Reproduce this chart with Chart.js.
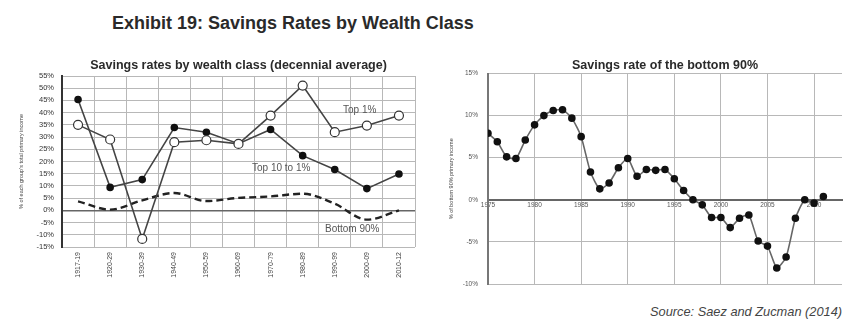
<!DOCTYPE html>
<html>
<head>
<meta charset="utf-8">
<script src="https://cdn.jsdelivr.net/npm/chart.js@4.4.1/dist/chart.umd.min.js"></script>
<style>
  body { margin:0; background:#fff; width:857px; height:335px; overflow:hidden; font-family:"Liberation Sans", Arial, sans-serif; }
  .abs { position:absolute; }
  #mainTitle { left:112px; top:13px; font-weight:bold; font-size:18px; color:#2a2a2a; }
  #source { left:650px; top:304px; font-style:italic; font-size:12.8px; color:#444; }
  .lbl { position:absolute; font-size:10px; color:#555; white-space:nowrap; }
  #leftBox { left:0; top:52px; width:422px; height:250px; }
  #rightBox { left:430px; top:52px; width:427px; height:250px; }
</style>
</head>
<body>
<div id="mainTitle" class="abs">Exhibit 19: Savings Rates by Wealth Class</div>
<div id="leftBox" class="abs"><canvas id="leftChart"></canvas></div>
<div id="rightBox" class="abs"><canvas id="rightChart"></canvas></div>
<div class="lbl" style="left:343px;top:104px;">Top 1%</div>
<div class="lbl" style="left:252px;top:162px;">Top 10 to 1%</div>
<div class="lbl" style="left:325px;top:223px;">Bottom 90%</div>
<div id="source" class="abs">Source: Saez and Zucman (2014)</div>
<script>
// decades for the left panel
var decades = ["1917-19","1920-29","1930-39","1940-49","1950-59","1960-69","1970-79","1980-89","1990-99","2000-09","2010-12"];
var top1 = [35.0, 29.0, -11.7, 27.9, 28.7, 27.2, 38.8, 51.1, 32.0, 34.7, 38.8];
var top10to1 = [45.4, 9.4, 12.6, 33.9, 32.0, 27.3, 33.1, 22.4, 16.7, 8.9, 14.9];
var bottom90 = [3.7, 0.3, 4.1, 7.1, 3.8, 5.1, 5.7, 6.8, 2.7, -3.8, 0.0];

// yearly series for the right panel
var years = [1975,1976,1977,1978,1979,1980,1981,1982,1983,1984,1985,1986,1987,1988,1989,1990,1991,1992,1993,1994,1995,1996,1997,1998,1999,2000,2001,2002,2003,2004,2005,2006,2007,2008,2009,2010,2011];
var bottom90yearly = [7.9,6.9,5.1,4.9,7.1,8.9,10.0,10.6,10.7,9.7,7.5,3.3,1.3,2.0,3.8,4.9,2.8,3.6,3.5,3.6,2.5,1.1,0.0,-0.6,-2.1,-2.1,-3.3,-2.2,-1.8,-4.9,-5.5,-8.1,-6.8,-2.2,0.0,-0.4,0.4];

var fontFam = "'Liberation Sans', Arial, sans-serif";
var gridCol = '#b8b8b8';

new Chart(document.getElementById('leftChart'), {
  type: 'line',
  data: {
    labels: decades,
    datasets: [
      { label: 'Top 1%', data: top1, borderColor: '#444', borderWidth: 1.6, tension: 0,
        pointRadius: 4.5, pointBackgroundColor: '#fff', pointBorderColor: '#333', pointBorderWidth: 1.2 },
      { label: 'Top 10 to 1%', data: top10to1, borderColor: '#444', borderWidth: 1.6, tension: 0,
        pointRadius: 3, pointBackgroundColor: '#111', pointBorderColor: '#111' },
      { label: 'Bottom 90%', data: bottom90, borderColor: '#222', borderWidth: 2.4, borderDash: [7, 4],
        tension: 0.4, cubicInterpolationMode: 'monotone', pointRadius: 0 }
    ]
  },
  options: {
    responsive: true, maintainAspectRatio: false, animation: false,
    layout: { padding: { left: 18, right: 7, top: 0, bottom: 0 } },
    plugins: {
      legend: { display: false }, tooltip: { enabled: false },
      title: { display: true, fullSize: false, text: 'Savings rates by wealth class (decennial average)',
        color: '#2a2a2a', font: { family: fontFam, size: 12.5, weight: 'bold' }, padding: { top: 6.5, bottom: 2.5 } }
    },
    scales: {
      x: {
        type: 'category', offset: true,
        grid: { offset: true, color: gridCol, drawTicks: false },
        border: { display: false },
        ticks: { minRotation: 90, maxRotation: 90, padding: 5, color: '#444', font: { family: fontFam, size: 7 } },
        afterFit: function(s) { s.height = 55; }
      },
      y: {
        min: -15, max: 55,
        ticks: { stepSize: 5, autoSkip: false, padding: 8, color: '#333', font: { family: fontFam, size: 7.5 },
          callback: function(v) { return v + '%'; } },
        grid: { drawTicks: false,
          color: function(c) { return c.tick && c.tick.value === 0 ? '#666' : gridCol; },
          lineWidth: function(c) { return c.tick && c.tick.value === 0 ? 1.5 : 1; } },
        border: { color: '#333', width: 2 },
        title: { display: true, text: "% of each group's total primary income", color: '#444',
          font: { family: fontFam, size: 5.5 }, padding: 0 },
        afterFit: function(s) { s.width = 44; }
      }
    }
  }
});

new Chart(document.getElementById('rightChart'), {
  type: 'line',
  data: {
    labels: years,
    datasets: [
      { label: 'Bottom 90%', data: years.map(function(y, i) { return { x: y, y: bottom90yearly[i] }; }),
        borderColor: '#666', borderWidth: 1.6, tension: 0.2,
        pointRadius: 3, pointBackgroundColor: '#111', pointBorderColor: '#111' }
    ]
  },
  options: {
    responsive: true, maintainAspectRatio: false, animation: false,
    layout: { padding: { left: 18, right: 15, top: 0, bottom: 18 } },
    plugins: {
      legend: { display: false }, tooltip: { enabled: false },
      title: { display: true, fullSize: false, text: 'Savings rate of the bottom 90%',
        color: '#2a2a2a', font: { family: fontFam, size: 12.5, weight: 'bold' }, padding: { top: 6.5, bottom: 0 } }
    },
    scales: {
      x: {
        type: 'linear', position: { y: 0 }, min: 1975, max: 2013,
        ticks: { stepSize: 5, includeBounds: false, padding: 2, color: '#555', font: { family: fontFam, size: 6.5 },
          maxRotation: 0, callback: function(v) { return String(v); } },
        grid: { color: gridCol, drawTicks: false },
        border: { color: '#666', width: 2 }
      },
      y: {
        min: -10, max: 15,
        ticks: { stepSize: 5, padding: 10, color: '#555', font: { family: fontFam, size: 6.5 },
          callback: function(v) { return v + '%'; } },
        grid: { color: gridCol, drawTicks: false },
        border: { color: '#777', width: 2 },
        title: { display: true, text: '% of bottom 90% primary income', color: '#444',
          font: { family: fontFam, size: 5.5 }, padding: 0 },
        afterFit: function(s) { s.width = 40; }
      }
    }
  }
});
</script>
</body>
</html>
